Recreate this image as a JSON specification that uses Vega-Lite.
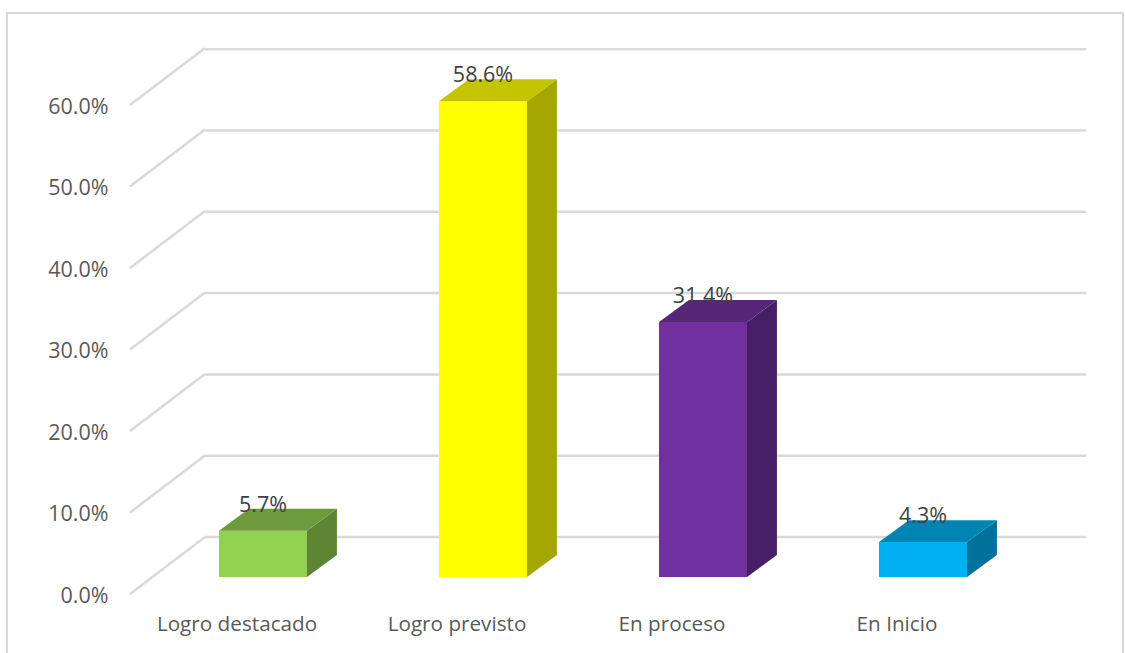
{
"$schema":"https://vega.github.io/schema/vega-lite/v6.json",
"width":1116,"height":650,
"autosize":"none",
"padding":{"left":7,"top":13,"right":2,"bottom":0},
"background":"white",
"config":{"view":{"stroke":"#d9d9d9","strokeWidth":2},"font":"Open Sans"},
"datasets":{
"bars":[
{"category":"Logro destacado","value":0.057},
{"category":"Logro previsto","value":0.586},
{"category":"En proceso","value":0.314},
{"category":"En Inicio","value":0.043}],
"ticks":[{"tick":0},{"tick":0.1},{"tick":0.2},{"tick":0.3},{"tick":0.4},{"tick":0.5},{"tick":0.6}],
"diagonals":[
{"tick":0,"xa":-0.6045,"xb":-0.2636,"ya":0,"yb":0.07},
{"tick":0.1,"xa":-0.6045,"xb":-0.2636,"ya":0.1,"yb":0.17},
{"tick":0.2,"xa":-0.6045,"xb":-0.2636,"ya":0.2,"yb":0.27},
{"tick":0.3,"xa":-0.6045,"xb":-0.2636,"ya":0.3,"yb":0.37},
{"tick":0.4,"xa":-0.6045,"xb":-0.2636,"ya":0.4,"yb":0.47},
{"tick":0.5,"xa":-0.6045,"xb":-0.2636,"ya":0.5,"yb":0.57},
{"tick":0.6,"xa":-0.6045,"xb":-0.2636,"ya":0.6,"yb":0.67}],
"sides":[
{"category":"Logro destacado","pos":0.2,"low":0,"high":0.057},
{"category":"Logro destacado","pos":0.336,"low":0.027,"high":0.084},
{"category":"Logro previsto","pos":1.2,"low":0,"high":0.586},
{"category":"Logro previsto","pos":1.336,"low":0.027,"high":0.613},
{"category":"En proceso","pos":2.2,"low":0,"high":0.314},
{"category":"En proceso","pos":2.336,"low":0.027,"high":0.341},
{"category":"En Inicio","pos":3.2,"low":0,"high":0.043},
{"category":"En Inicio","pos":3.336,"low":0.027,"high":0.07}],
"tops":[
{"category":"Logro destacado","level":0.057,"left":-0.2,"right":0.2},
{"category":"Logro destacado","level":0.084,"left":-0.064,"right":0.336},
{"category":"Logro previsto","level":0.586,"left":0.8,"right":1.2},
{"category":"Logro previsto","level":0.613,"left":0.936,"right":1.336},
{"category":"En proceso","level":0.314,"left":1.8,"right":2.2},
{"category":"En proceso","level":0.341,"left":1.936,"right":2.336},
{"category":"En Inicio","level":0.043,"left":2.8,"right":3.2},
{"category":"En Inicio","level":0.07,"left":2.936,"right":3.336}]
},
"layer":[
{"data":{"name":"ticks"},
 "mark":{"type":"rule","color":"#d9d9d9","strokeWidth":2.5},
 "encoding":{
  "y":{"field":"tick","type":"quantitative","scale":{"domain":[-0.155,0.6445],"nice":false,"zero":false},
   "axis":null},
  "x":{"datum":-0.2636,"type":"quantitative","scale":{"domain":[-1.1636,3.909],"nice":false,"zero":false},"axis":null},
  "x2":{"datum":3.741}}},
{"data":{"name":"diagonals"},
 "mark":{"type":"rule","color":"#d9d9d9","strokeWidth":2.5},
 "encoding":{
  "y":{"field":"ya","type":"quantitative","scale":{"domain":[-0.08466,0.7129],"nice":false,"zero":false},
   "axis":{"orient":"left","values":[0,0.1,0.2,0.3,0.4,0.5,0.6],"format":".1%","title":null,"domain":false,"ticks":false,"grid":false,"offset":-101,"labelPadding":0,"labelOffset":2,"labelFontSize":21.5,"labelColor":"#595959","labelFont":"Open Sans"}},
  "y2":{"field":"yb"},
  "x":{"field":"xa","type":"quantitative","scale":{"domain":[-1.1636,3.909],"nice":false,"zero":false},"axis":null},
  "x2":{"field":"xb"}}},
{"data":{"name":"bars"},
 "mark":{"type":"bar"},
 "encoding":{
  "x":{"field":"category","type":"nominal","sort":null,
   "scale":{"range":[146,1026],"paddingInner":0.6,"paddingOuter":0.3},
   "axis":{"orient":"bottom","title":null,"domain":false,"ticks":false,"grid":false,"labelAngle":0,"labelOffset":{"condition":{"test":"datum.value==='En proceso'","value":-31},"value":-26},"offset":-49,"labelPadding":0,"labelFontSize":20.7,"labelColor":"#595959","labelFont":"Open Sans","labelBaseline":"top"}},
  "y":{"field":"value","type":"quantitative","scale":{"domain":[-0.1059,0.6946],"nice":false,"zero":false},"axis":null},
  "y2":{"datum":0},
  "color":{"field":"category","type":"nominal","sort":null,"legend":null,
   "scale":{"domain":["Logro destacado","Logro previsto","En proceso","En Inicio"],"range":["#92d050","#ffff00","#7030a0","#00b0f0"]}}}},
{"data":{"name":"sides"},
 "mark":{"type":"area","orient":"vertical"},
 "encoding":{
  "x":{"field":"pos","type":"quantitative","scale":{"domain":[-1.1636,3.909],"nice":false,"zero":false},"axis":null},
  "y":{"field":"low","type":"quantitative","scale":{"domain":[-0.1059,0.6946],"nice":false,"zero":false},"axis":null},
  "y2":{"field":"high"},
  "color":{"field":"category","type":"nominal","legend":null,
   "scale":{"domain":["Logro destacado","Logro previsto","En proceso","En Inicio"],"range":["#5e8533","#a6a600","#461f66","#00719a"]}}}},
{"data":{"name":"tops"},
 "mark":{"type":"area","orient":"horizontal"},
 "encoding":{
  "y":{"field":"level","type":"quantitative","scale":{"domain":[-0.1059,0.6946],"nice":false,"zero":false},"axis":null},
  "x":{"field":"left","type":"quantitative","scale":{"domain":[-1.1636,3.909],"nice":false,"zero":false},"axis":null},
  "x2":{"field":"right"},
  "color":{"field":"category","type":"nominal","legend":null,
   "scale":{"domain":["Logro destacado","Logro previsto","En proceso","En Inicio"],"range":["#6d9a3c","#c4c400","#572678","#0084b4"]}}}},
{"data":{"name":"bars"},
 "mark":{"type":"text","dy":-25,"fontSize":21.5,"color":"#404040","font":"Open Sans"},
 "encoding":{
  "x":{"field":"category","type":"nominal","sort":null,
   "scale":{"range":[146,1026],"paddingInner":0.6,"paddingOuter":0.3},"axis":null},
  "y":{"field":"value","type":"quantitative","scale":{"domain":[-0.1059,0.6946],"nice":false,"zero":false},"axis":null},
  "text":{"field":"value","type":"quantitative","format":".1%"}}}
],
"resolve":{"scale":{"x":"independent","y":"independent","color":"independent"},"axis":{"x":"independent","y":"independent"}}
}
